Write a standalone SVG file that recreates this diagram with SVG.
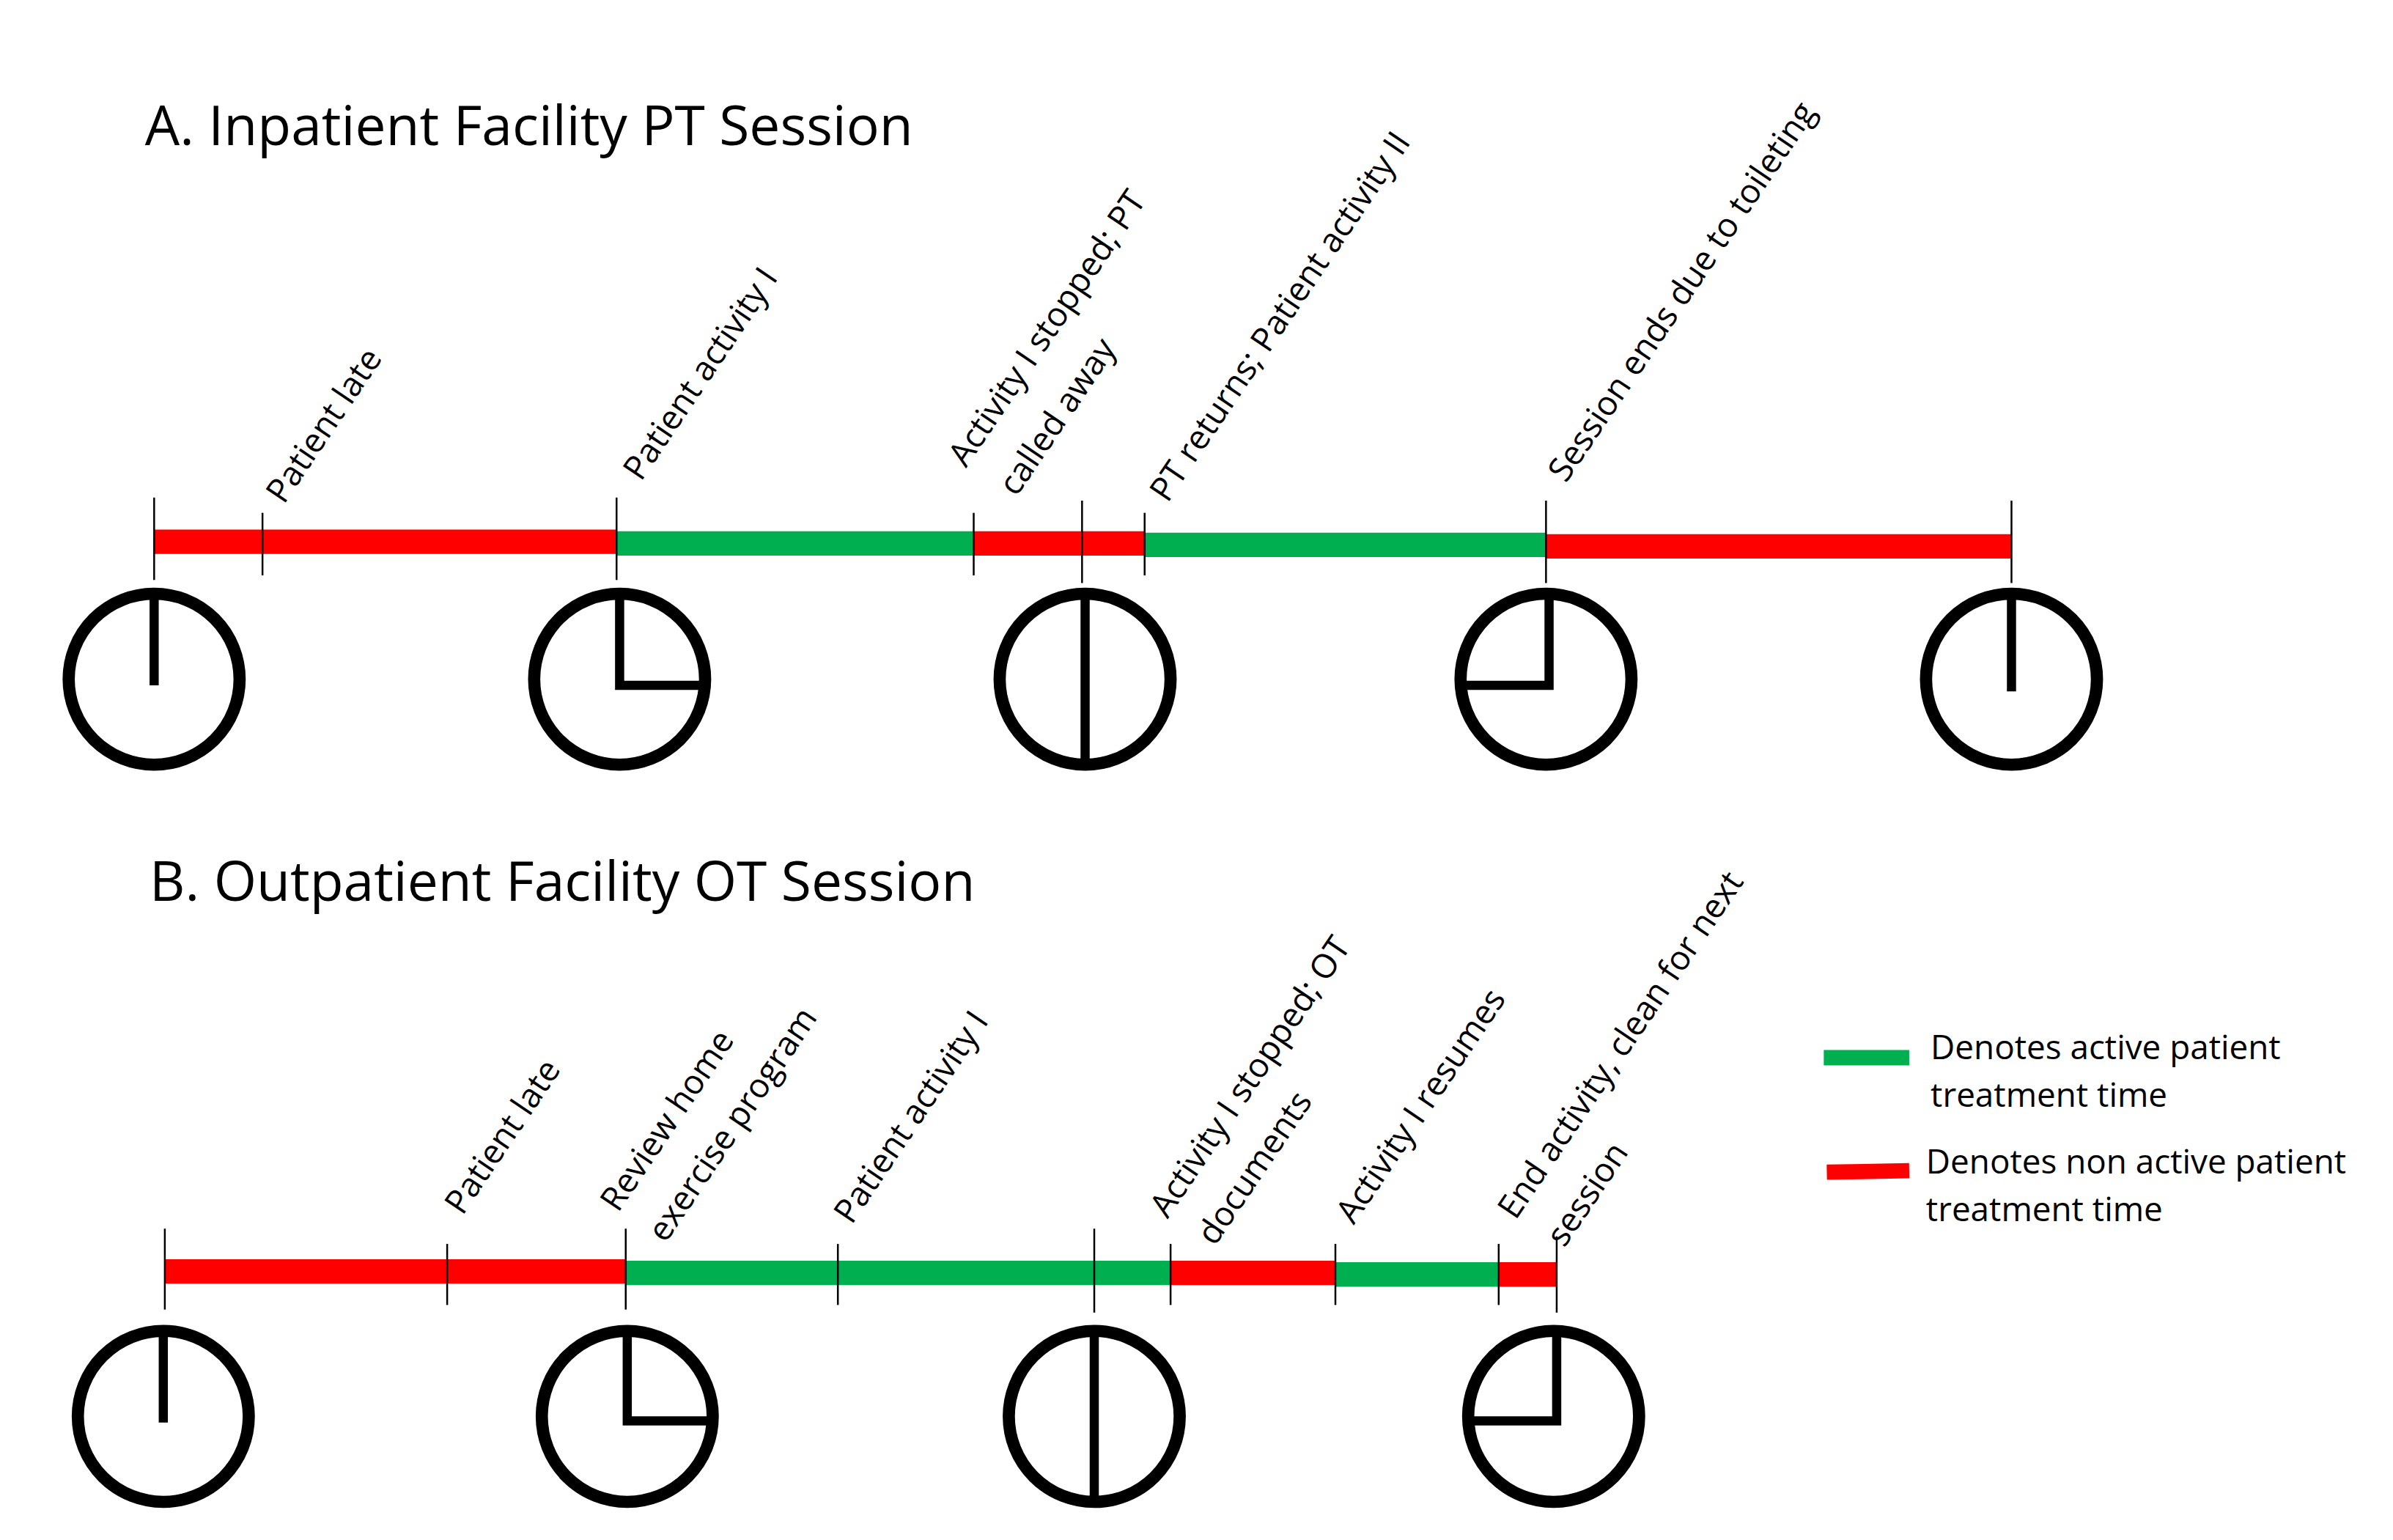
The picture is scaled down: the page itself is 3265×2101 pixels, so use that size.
<svg xmlns="http://www.w3.org/2000/svg" width="3265" height="2101" viewBox="0 0 3265 2101">
<style>
text{font-family:"Open Sans","Liberation Sans",sans-serif;fill:#000}
.t{font-size:36px}
.l{font-size:22px}
.tick{stroke:#000;stroke-width:1.2}
.r{stroke:#f00;stroke-width:16}
.g{stroke:#00b050;stroke-width:16}
.ck{fill:none;stroke:#000;stroke-width:8}
.h{stroke:#000;stroke-width:6;fill:none}
</style>
<rect width="3265" height="2101" fill="#fff"/>
<g transform="scale(2.0823)">
<text class="t" x="95" y="95">A. Inpatient Facility PT Session</text>
<text class="t" x="98" y="590">B. Outpatient Facility OT Session</text>
<g id="connectors">
<line class="r" x1="101" y1="355" x2="404" y2="355"/>
<line class="g" x1="404" y1="356" x2="638" y2="356"/>
<line class="r" x1="638" y1="356" x2="750" y2="356"/>
<line class="g" x1="750" y1="357" x2="1013" y2="357"/>
<line class="r" x1="1013" y1="358" x2="1318" y2="358"/>
<g class="tick">
<line x1="101" y1="326" x2="101" y2="380"/><line x1="172" y1="336" x2="172" y2="377"/>
<line x1="404" y1="326" x2="404" y2="380"/><line x1="638" y1="336" x2="638" y2="377"/>
<line x1="709" y1="328" x2="709" y2="382"/><line x1="750" y1="336" x2="750" y2="377"/>
<line x1="1013" y1="328" x2="1013" y2="382"/><line x1="1318" y1="328" x2="1318" y2="382"/>
</g>
<line class="r" x1="108" y1="833" x2="410" y2="833"/>
<line class="g" x1="410" y1="834" x2="767" y2="834"/>
<line class="r" x1="767" y1="834" x2="875" y2="834"/>
<line class="g" x1="875" y1="835" x2="982" y2="835"/>
<line class="r" x1="982" y1="835" x2="1020" y2="835"/>
<g class="tick">
<line x1="108" y1="805" x2="108" y2="858"/><line x1="293" y1="815" x2="293" y2="855"/>
<line x1="410" y1="805" x2="410" y2="858"/><line x1="549" y1="815" x2="549" y2="855"/>
<line x1="717" y1="805" x2="717" y2="860"/><line x1="767" y1="815" x2="767" y2="855"/>
<line x1="875" y1="815" x2="875" y2="855"/><line x1="982" y1="815" x2="982" y2="855"/>
<line x1="1020" y1="810" x2="1020" y2="860"/>
</g>
</g>
<g id="clocksA">
<g id="a1"><circle class="ck" cx="101" cy="445" r="56"/><path class="h" d="M101 390V449"/></g>
<g id="a2"><circle class="ck" cx="406" cy="445" r="56"/><path class="h" d="M406 390V449H460"/></g>
<g id="a3"><circle class="ck" cx="711" cy="445" r="56"/><path class="h" d="M711 390V500"/></g>
<g id="a4"><circle class="ck" cx="1013" cy="445" r="56"/><path class="h" d="M1015 390V449H959"/></g>
<g id="a5"><circle class="ck" cx="1318" cy="445" r="56"/><path class="h" d="M1318 390V453"/></g>
</g>
<g id="clocksB">
<g id="b1"><circle class="ck" cx="107" cy="928" r="56"/><path class="h" d="M107 873V932"/></g>
<g id="b2"><circle class="ck" cx="411" cy="928" r="56"/><path class="h" d="M411 873V931H466"/></g>
<g id="b3"><circle class="ck" cx="717" cy="928" r="56"/><path class="h" d="M717 873V983"/></g>
<g id="b4"><circle class="ck" cx="1018" cy="928" r="56"/><path class="h" d="M1020 873V931H964"/></g>
</g>
<g id="labelsA" class="l">
<text class="l" transform="translate(186,331) rotate(-56)">Patient late</text>
<text class="l" transform="translate(420,316) rotate(-56)">Patient activity I</text>
<text class="l" transform="translate(633,307) rotate(-56)">Activity I stopped; PT</text>
<text class="l" transform="translate(666,326) rotate(-56)">called away</text>
<text class="l" transform="translate(765,330) rotate(-56)">PT returns; Patient activity II</text>
<text class="l" transform="translate(1026,317) rotate(-56)">Session ends due to toileting</text>
</g>
<g id="labelsB">
<text class="l" transform="translate(303,797) rotate(-56)">Patient late</text>
<text class="l" transform="translate(405,795) rotate(-56)">Review home</text>
<text class="l" transform="translate(436,815) rotate(-56)">exercise program</text>
<text class="l" transform="translate(558,803) rotate(-56)">Patient activity I</text>
<text class="l" transform="translate(765,799) rotate(-56)">Activity I stopped; OT</text>
<text class="l" transform="translate(796,817) rotate(-56)">documents</text>
<text class="l" transform="translate(887,803) rotate(-56)">Activity I resumes</text>
<text class="l" transform="translate(993,800) rotate(-56)">End activity, clean for next</text>
<text class="l" transform="translate(1025,818) rotate(-56)">session</text>
</g>
<g id="legend">
<line class="g" x1="1195" y1="693" x2="1251" y2="693" style="stroke-width:10"/>
<text class="l" x="1265" y="694">Denotes active patient</text>
<text class="l" x="1265" y="725">treatment time</text>
<line class="r" x1="1197" y1="768" x2="1251" y2="767" style="stroke-width:10"/>
<text class="l" x="1262" y="769">Denotes non active patient</text>
<text class="l" x="1262" y="800">treatment time</text>
</g>
</g>
</svg>
